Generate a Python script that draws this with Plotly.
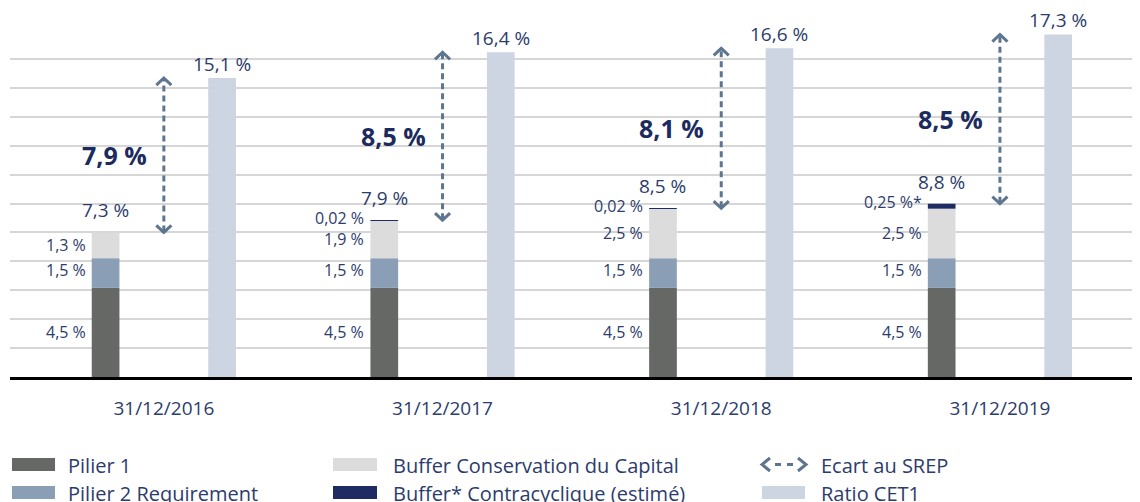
import numpy as np
import plotly.graph_objects as go

# ---------------- data ----------------
dates = ["31/12/2016", "31/12/2017", "31/12/2018", "31/12/2019"]
pilier1 = [4.5, 4.5, 4.5, 4.5]
pilier2 = [1.5, 1.5, 1.5, 1.5]
buffer_cons = [1.3, 1.9, 2.5, 2.5]
buffer_contra = [0.0, 0.02, 0.02, 0.25]
contra_labels = ["", "0,02 %", "0,02 %", "0,25 %*"]
cet1 = [15.1, 16.4, 16.6, 17.3]
ecart = [7.9, 8.5, 8.1, 8.5]

legend_names = ["Pilier 1", "Pilier 2 Requirement", "Buffer Conservation du Capital",
                "Buffer* Contracyclique (estimé)", "Ecart au SREP", "Ratio CET1"]

# ---------------- style ----------------
C_P1 = "#666866"
C_P2 = "#8a9fb5"
C_BC = "#dcdcdc"
C_CC = "#1f2c63"
C_CET = "#cdd4e2"
C_TXT = "#2c3c6c"
C_BOLD = "#1c2b5e"
C_ARW = "#5e7590"
FONT = "Open Sans"

# page body has an 8px margin: figure is drawn from (8, 8)
PAGE_OFF = 8
W, H = 1140 - PAGE_OFF, 502 - PAGE_OFF
ML, MR, MT, MB = 2, 0, 12, 125
PW, PH = W - ML - MR, H - MT - MB
REF_LEFT = ML + PAGE_OFF          # plot-area left edge in window pixels
REF_BOTTOM = H - MB + PAGE_OFF    # plot-area bottom edge in window pixels

x = np.arange(len(dates))
p1 = np.array(pilier1)
p2 = np.array(pilier2)
bc = np.array(buffer_cons)
cc = np.array(buffer_contra)
ce = np.array(cet1)
base2 = p1
base3 = p1 + p2
base4 = p1 + p2 + bc
total = base4 + cc

OFF = 0.209   # bar centre distance from category centre
BW = 0.0994   # bar width

fig = go.Figure()


def add_bar(y, base, color, side):
    fig.add_trace(go.Bar(
        x=x, y=y, base=base, width=BW, offset=side * OFF - BW / 2,
        marker=dict(color=color, line=dict(width=0)),
        showlegend=False, hoverinfo="skip"))


add_bar(p1, np.zeros(len(x)), C_P1, -1)
add_bar(p2, base2, C_P2, -1)
add_bar(bc, base3, C_BC, -1)
add_bar(cc, base4, C_CC, -1)
add_bar(ce, np.zeros(len(x)), C_CET, 1)

# ---------- Ecart arrows (dashed, chevron heads) ----------
HX = 0.027   # chevron half width (x units)
HY = 0.36    # chevron height (y units)
for i in range(len(x)):
    fig.add_trace(go.Scatter(
        x=[x[i], x[i]], y=[total[i] + 0.05, ce[i] - 0.05], mode="lines",
        line=dict(color=C_ARW, width=3, dash="6px,4px"),
        showlegend=False, hoverinfo="skip"))
    fig.add_trace(go.Scatter(
        x=[x[i] - HX, x[i], x[i] + HX], y=[ce[i] - HY, ce[i], ce[i] - HY],
        mode="lines", line=dict(color=C_ARW, width=3),
        showlegend=False, hoverinfo="skip"))
    fig.add_trace(go.Scatter(
        x=[x[i] - HX, x[i], x[i] + HX], y=[total[i] + HY, total[i], total[i] + HY],
        mode="lines", line=dict(color=C_ARW, width=3),
        showlegend=False, hoverinfo="skip"))


def fmt(v):
    return f"{v:.1f}".replace(".", ",") + " %"


ann = []
for i in range(len(x)):
    left = x[i] - OFF - BW / 2
    # segment labels
    for val, b, ys in ((p1[i], 0.0, 0), (p2[i], base2[i], 3), (bc[i], base3[i], 0)):
        ann.append(dict(x=left, y=b + val / 2, text=fmt(val), xanchor="right",
                        yanchor="middle", xshift=-4, yshift=ys, showarrow=False,
                        font=dict(family=FONT, size=16, color=C_TXT)))
    if contra_labels[i]:
        ann.append(dict(x=left, y=total[i], text=contra_labels[i],
                        xanchor="right", yanchor="middle", xshift=-4, yshift=2,
                        showarrow=False,
                        font=dict(family=FONT, size=16, color=C_TXT)))
    # total of requirements
    ann.append(dict(x=x[i] - OFF, y=total[i], text=fmt(total[i]), xanchor="center",
                    yanchor="middle", yshift=22, showarrow=False,
                    font=dict(family=FONT, size=19, color=C_TXT)))
    # CET1 labels
    ann.append(dict(x=x[i] + OFF, y=ce[i], text=fmt(ce[i]), xanchor="center",
                    yanchor="middle", yshift=14, showarrow=False,
                    font=dict(family=FONT, size=19, color=C_TXT)))
    # ecart labels
    ann.append(dict(x=x[i], y=(total[i] + ce[i]) / 2, text="<b>" + fmt(ecart[i]) + "</b>",
                    xanchor="right", yanchor="middle", xshift=-15, showarrow=False,
                    font=dict(family=FONT, size=25, color=C_BOLD)))


# ---------------- manual legend (positions in window pixels) ----------------
def px(xp):
    return (xp - REF_LEFT) / PW


def py(yp):
    return (REF_BOTTOM - yp) / PH


shapes = []
legend_items = [
    (12, 55, 458, 471, C_P1, 66, 465, legend_names[0]),
    (12, 55, 486, 499, C_P2, 66, 493, legend_names[1]),
    (333, 377, 458, 471, C_BC, 391, 465, legend_names[2]),
    (333, 377, 486, 499, C_CC, 391, 493, legend_names[3]),
    (762, 805, 486, 499, C_CET, 819, 493, legend_names[5]),
]
for x0, x1, y0, y1, col, tx, ty, name in legend_items:
    shapes.append(dict(type="rect", xref="paper", yref="paper",
                       x0=px(x0), x1=px(x1), y0=py(y1), y1=py(y0),
                       fillcolor=col, line=dict(width=0)))
    ann.append(dict(xref="paper", yref="paper", x=px(tx), y=py(ty), text=name,
                    xanchor="left", yanchor="middle", showarrow=False,
                    font=dict(family=FONT, size=20, color=C_TXT)))

# Ecart icon  <-->
icon_y = 464.5
path = (f"M{px(770)},{py(458)} L{px(762)},{py(icon_y)} L{px(770)},{py(471)} "
        f"M{px(798)},{py(458)} L{px(806)},{py(icon_y)} L{px(798)},{py(471)} "
        f"M{px(775)},{py(icon_y)} L{px(781)},{py(icon_y)} "
        f"M{px(787)},{py(icon_y)} L{px(793)},{py(icon_y)}")
shapes.append(dict(type="path", xref="paper", yref="paper", path=path,
                   line=dict(color=C_ARW, width=3)))
ann.append(dict(xref="paper", yref="paper", x=px(819), y=py(465), text=legend_names[4],
                xanchor="left", yanchor="middle", showarrow=False,
                font=dict(family=FONT, size=20, color=C_TXT)))

GRID = 1.46
fig.update_layout(
    width=W, height=H,
    margin=dict(l=ML, r=MR, t=MT, b=MB),
    paper_bgcolor="white", plot_bgcolor="white",
    barmode="overlay",
    showlegend=False,
    annotations=ann,
    shapes=shapes,
    xaxis=dict(range=[-0.552, 3.5026], tickvals=x, ticktext=dates,
               showgrid=False, zeroline=False, ticks="",
               showline=True, linecolor="black", linewidth=3,
               tickfont=dict(family=FONT, size=19, color=C_TXT),
               ticklabelstandoff=12),
    yaxis=dict(range=[0, PH / 19.8], tickvals=[GRID * k for k in range(1, 12)],
               showticklabels=False, showgrid=True, gridcolor="#d6d6d6",
               gridwidth=1.5, zeroline=False, ticks=""),
)

fig.write_html("out.html")
